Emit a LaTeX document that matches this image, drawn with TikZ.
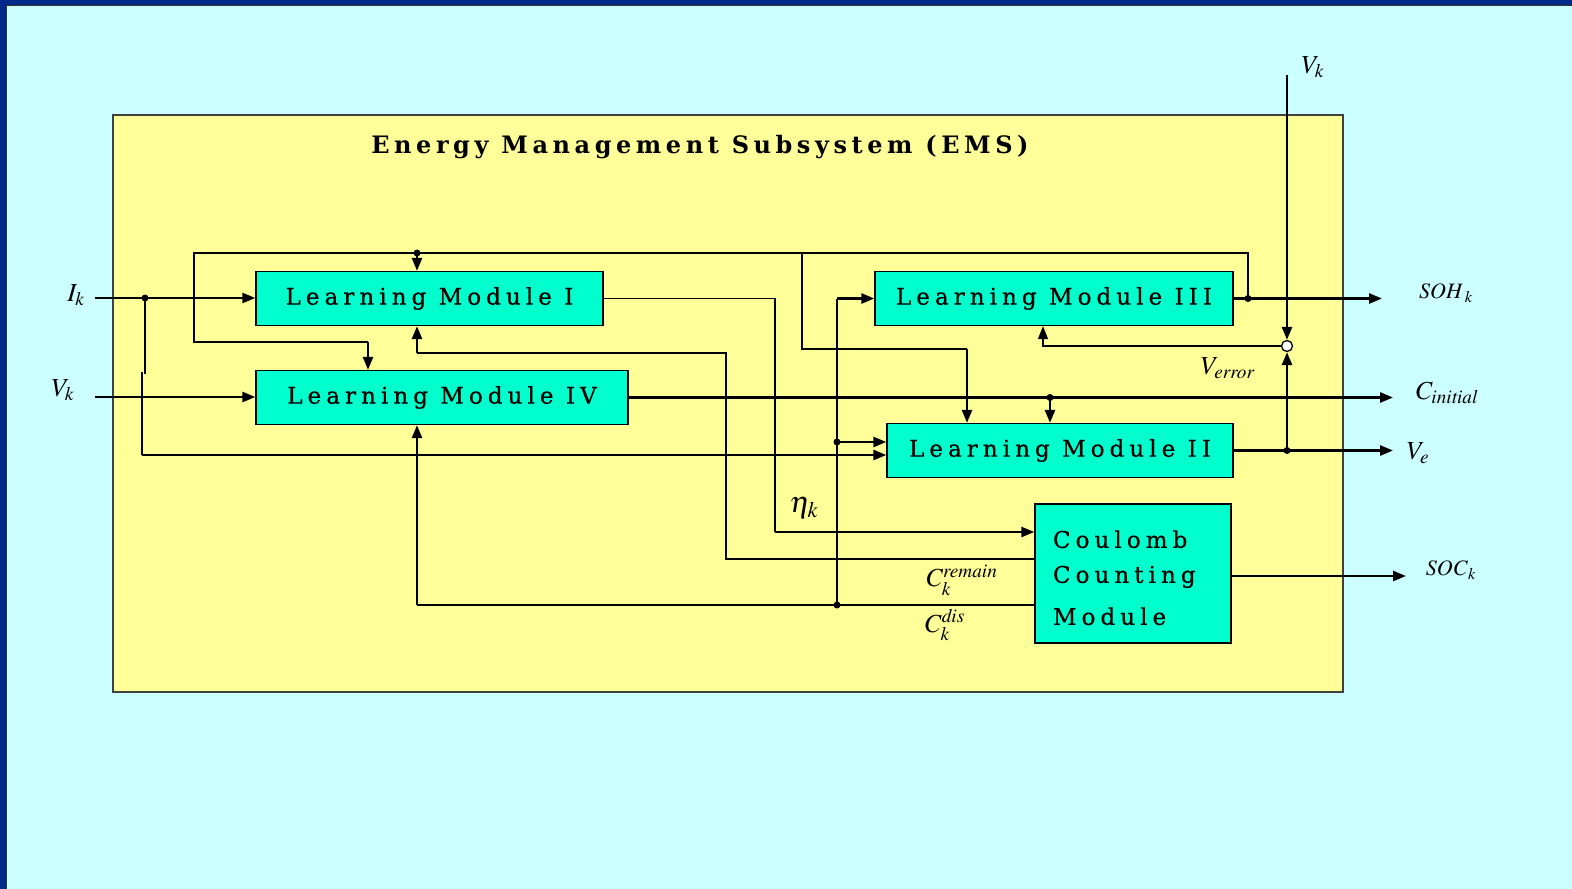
\documentclass[tikz,border=0pt]{standalone}
\usepackage{mathptmx}
\usepackage{fontspec}
\setmainfont{Liberation Serif}
\newfontfamily\boxfont[LetterSpace=22, FakeBold=0.5]{DejaVu Serif}
\newfontfamily\titlefont[LetterSpace=19]{DejaVu Serif}
\usetikzlibrary{arrows.meta,positioning,calc}
\definecolor{emsframe}{RGB}{0,42,138}
\definecolor{emsback}{RGB}{204,255,255}
\definecolor{emsyellow}{RGB}{255,255,153}
\definecolor{emsmint}{RGB}{0,255,204}
\tikzset{
  lmod/.style={draw, fill=emsmint, line width=1.3pt, inner sep=0pt,
               font=\fontsize{23}{35}\selectfont\boxfont,
               minimum width=#1pt, minimum height=54pt},
  wthick/.style={line width=2.6pt},
  wthin/.style={line width=1.3pt},
  arr/.style={-{Triangle[length=13pt,width=10pt]}},
  sumj/.style={draw, circle, fill=white, line width=1.3pt,
               minimum size=11pt, inner sep=0pt},
  lbl/.style={font=\fontsize{26}{30}\selectfont, inner sep=0pt},
  slbl/.style={font=\fontsize{22}{26}\selectfont, inner sep=0pt},
}

\begin{document}
\begin{tikzpicture}[x=1pt, y=-1pt]
\useasboundingbox (0,0) rectangle (1572,889);

% --- slide frame and EMS box ---
\fill[emsframe] (0,0) rectangle (1572,889);
\fill[emsback] (7,6) rectangle (1572,889);
\draw[black!80, line width=1.2pt] (6.6,889) -- (6.6,5.6) -- (1572,5.6);
\draw[fill=emsyellow, draw=black!75, line width=1.2pt] (113,115) rectangle (1343,692);
\node[font=\fontsize{24}{28}\selectfont\titlefont\bfseries] (title) at (700,147)
      {Energy Management Subsystem (EMS)};

% --- modules ---
\node[lmod=347] (m1) at (429.5,298.5) {Learning Module I};
\node[lmod=372] (m4) at (442,397.5) {Learning Module IV};
\node[lmod=358] (m3) at (1054,298.5) {Learning Module III};
\node[lmod=346] (m2) at (1060,450.5) {Learning Module II};
\node[lmod=196, minimum height=139pt, text width=160pt, inner xsep=18pt,
      align=left] (ccm) at (1133,573.5)
      {\rule{0pt}{26pt}Coulomb\\Counting\\[7pt]Module};
\node[sumj] (sum) at (1287,346) {};

% --- inputs ---
\coordinate (ikin) at (95,298);
\coordinate (ikdot) at (145,298);
\coordinate (ikbend) at (142,455);
\coordinate (vkin) at (95,397);
\coordinate (vktop) at (1287,75);
\node[lbl] (Ik) at (76,295) {$I_k$};
\node[lbl] (Vk) at (63,390) {$V_k$};
\node[lbl] (Vktop) at (1313,67) {$V_k$};
\draw[wthick,arr] (ikin) -- (ikin -| m1.west);
\draw[wthick,arr] (vkin) -- (vkin -| m4.west);
\draw[wthin] (ikdot) -- (145,374);
\draw[wthin] (142,372) -- (ikbend);
\draw[wthick,arr] (ikbend) -- (ikbend -| m2.west);
\draw[wthick,arr] (vktop) -- (sum.north);

% --- SOH feedback loop ---
\coordinate (sohdot) at (1248,298.5);
\coordinate (fbtop) at (1248,253);
\coordinate (fbleft) at (194,253);
\coordinate (fbm4) at (368,342);
\coordinate (fbm1) at (417,253);
\coordinate (fbm2a) at (802,253);
\coordinate (fbm2) at (967,349);
\draw[wthin] (sohdot) -- (fbtop) -- (fbleft) |- (fbm4);
\draw[wthick,arr] (fbm4) -- (fbm4 |- m4.north);
\draw[wthick,arr] (fbm1) -- (fbm1 |- m1.north);
\draw[wthin] (fbm2a) |- (fbm2);
\draw[wthick,arr] (fbm2) -- (fbm2 |- m2.north);

% --- Module I to Coulomb counting ---
\coordinate (eta) at (775,532);
\draw[wthin] (m1.east) -| (eta);
\draw[wthick,arr] (eta) -- (eta -| ccm.west);
\node[lbl, font=\fontsize{30}{34}\selectfont] (etak) at (804,508) {$\eta_k$};

% --- Coulomb counting feedback ---
\coordinate (crem) at (726,559);
\coordinate (cremtop) at (417,353);
\coordinate (cdis) at (417,605);
\coordinate (cdisdot) at (837,605);
\coordinate (cdism3) at (837,298.5);
\coordinate (cdism2) at (837,442);
\draw[wthin] (crem -| ccm.west) -- (crem) |- (cremtop);
\draw[wthick,arr] (cremtop) -- (cremtop |- m1.south);
\draw[wthin] (cdis -| ccm.west) -- (cdis);
\draw[wthick,arr] (cdis) -- (cdis |- m4.south);
\draw[wthin] (cdisdot) -- (cdism3);
\draw[wthick,arr] (cdism3) -- (cdism3 -| m3.west);
\draw[wthick,arr] (cdism2) -- (cdism2 -| m2.west);
\node[lbl] (Crem) at (962,580) {$C_k^{\mathit{remain}}$};
\node[lbl] (Cdis) at (945,625) {$C_k^{\mathit{dis}}$};

% --- outputs ---
\coordinate (sohout) at (1382,298.5);
\coordinate (cinit) at (1393,397.5);
\coordinate (cinitdot) at (1050,397.5);
\coordinate (veout) at (1393,450.5);
\coordinate (vedot) at (1287,450.5);
\coordinate (socout) at (1406,576);
\coordinate (verr) at (1043,346);
\draw[wthick,arr] (m3.east) -- (sohout);
\draw[wthick,arr] (m4.east) -- (cinit);
\draw[wthick,arr] (cinitdot) -- (cinitdot |- m2.north);
\draw[wthick,arr] (m2.east) -- (veout);
\draw[wthick,arr] (vedot) -- (sum.south);
\draw[wthin,arr] (sum.west) -| (verr |- m3.south);
\draw[wthick,arr] (ccm.east |- socout) -- (socout);
\node[slbl] (SOH) at (1446,293) {$\mathit{SOH}_{\,k}$};
\node[lbl] (Cinit) at (1447,393) {$C_{\mathit{initial}}$};
\node[lbl] (Ve) at (1418,453) {$V_e$};
\node[slbl] (SOC) at (1451,570) {$\mathit{SOC}_k$};
\node[lbl] (Verr) at (1228,368) {$V_{\mathit{error}}$};

% --- junction dots ---
\foreach \p in {ikdot,sohdot,fbm1,cdisdot,cdism2,cinitdot,vedot}
  \fill (\p) circle (3.5);

\end{tikzpicture}
\end{document}
